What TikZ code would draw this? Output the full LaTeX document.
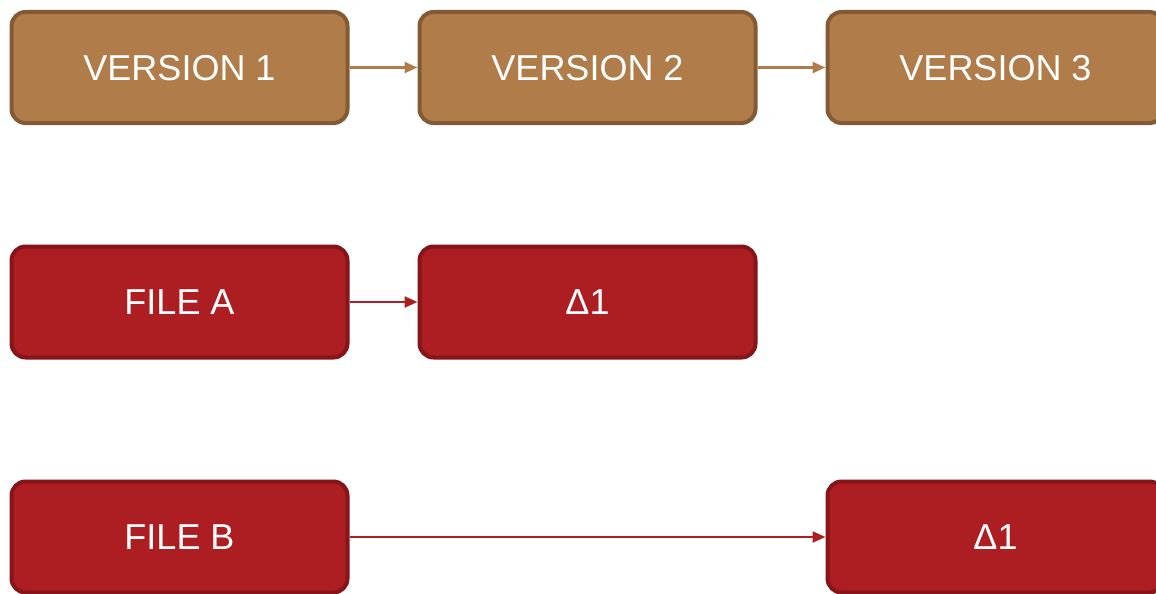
\documentclass[tikz,border=0pt]{standalone}
\usepackage{fontspec}
\setmainfont{Liberation Sans}
\usetikzlibrary{arrows.meta}
\definecolor{verfill}{HTML}{B07C4A}
\definecolor{verline}{HTML}{835A33}
\definecolor{filefill}{HTML}{AD1E23}
\definecolor{fileline}{HTML}{861519}
\tikzset{
  x=1pt, y=-1pt,
  box/.style={rounded corners=14pt, line width=4pt, minimum width=336pt,
    minimum height=111pt, inner sep=0pt, text=white, text depth=0pt,
    font=\fontsize{36}{40}\selectfont},
  verbox/.style={box, draw=verline, fill=verfill},
  filebox/.style={box, draw=fileline, fill=filefill},
  link/.style={line width=2.3pt, -{Triangle[length=13pt,width=11pt]}},
}
\begin{document}
\begin{tikzpicture}
\useasboundingbox (0,0) rectangle (1156,594);
\node[verbox] (v1) at (179.5,67.5) {VERSION 1};
\node[verbox] (v2) at (587.5,67.5) {VERSION 2};
\node[verbox] (v3) at (995.5,67.5) {VERSION 3};
\node[filebox] (fa) at (179.5,302) {FILE A};
\node[filebox] (da) at (587.5,302) {Δ1};
\node[filebox] (fb) at (179.5,537) {FILE B};
\node[filebox] (db) at (995.5,537) {Δ1};
\draw[link, verfill] (v1) -- (v2);
\draw[link, verfill] (v2) -- (v3);
\draw[link, filefill] (fa) -- (da);
\draw[link, filefill] (fb) -- (db);
\end{tikzpicture}
\end{document}
